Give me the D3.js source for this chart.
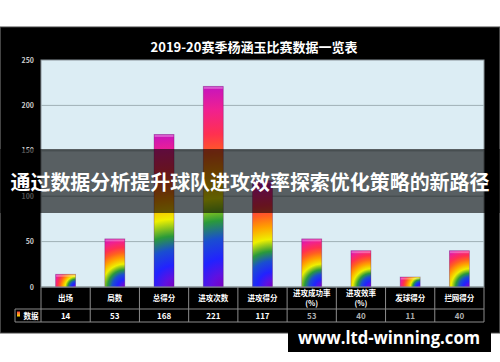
<!DOCTYPE html>
<html><head><meta charset="utf-8">
<script src="https://cdn.jsdelivr.net/npm/d3@7"></script>
<style>html,body{margin:0;padding:0;background:#fff;}svg{display:block;}</style>
</head><body>
<svg id="c" width="500" height="362"></svg>
<script>
const categories = ["出场","局数","总得分","进攻次数","进攻得分","进攻成功率\n(%)","进攻效率\n(%)","发球得分","拦网得分"];
const values = [14,53,168,221,117,53,40,11,40];
const valueLabels = ["14","53","168","221","117","53","40","11","40"];
const yTicks = [0,50,100,150,200,250];
const title = "2019-20赛季杨涵玉比赛数据一览表";
const seriesName = "数据";
const bannerText = "通过数据分析提升球队进攻效率探索优化策略的新路径";
const watermark = "www.ltd-winning.com";

const svg = d3.select("#c");
const font = "'Noto Sans CJK SC','Noto Sans',sans-serif";
const L = 41, R = 484, T = 60, B = 287;

// black frame
svg.append("rect").attr("x",0.5).attr("y",27).attr("width",499).attr("height",306)
  .attr("fill","#000").attr("stroke","#444").attr("stroke-width",1);

svg.append("text").attr("x",254).attr("y",52).attr("text-anchor","middle")
  .attr("fill","#fff").attr("font-family",font).attr("font-weight","bold").attr("font-size",13)
  .text(title);

const x = d3.scaleBand().domain(categories).range([L,R]).padding(0);
const y = d3.scaleLinear().domain([0,250]).range([B,T]);

// plot background
svg.append("rect").attr("x",L).attr("y",T).attr("width",R-L).attr("height",B-T)
  .attr("fill","#dcedf4").attr("stroke","#8a9499").attr("stroke-width",1);

// gridlines
svg.append("g").selectAll("line").data(yTicks.filter(d=>d>0&&d<250)).join("line")
  .attr("x1",L).attr("x2",R).attr("y1",d=>y(d)).attr("y2",d=>y(d))
  .attr("stroke","#9fb0b6").attr("stroke-width",1);

// y tick labels
svg.append("g").selectAll("text").data(yTicks).join("text")
  .attr("x",34).attr("y",d=>y(d)+2.5).attr("text-anchor","end")
  .attr("fill","#ccc").attr("font-family",font).attr("font-size",7).attr("font-weight","bold")
  .text(d=>d);

// gradients
const stops = [
  [0,"#7c00c0"],[0.06,"#6010e0"],[0.14,"#2222ff"],[0.24,"#1a4ed0"],[0.33,"#2a9a3a"],
  [0.44,"#eef000"],[0.56,"#ffa000"],[0.66,"#ff6020"],[0.76,"#ff3050"],[0.88,"#f02090"],[1,"#c414c0"]
];
const defs = svg.append("defs");
const bw = 20;
values.forEach((v,i)=>{
  const x0 = x(categories[i]) + x.bandwidth()/2 - bw/2;
  const y0 = y(v), h = B - y0;
  const g = defs.append("radialGradient").attr("id","g"+i)
    .attr("gradientUnits","userSpaceOnUse")
    .attr("cx",x0+bw).attr("cy",B).attr("r",Math.sqrt(bw*bw+h*h))
    .attr("fx",x0+bw).attr("fy",B);
  stops.forEach(s=>g.append("stop").attr("offset",s[0]).attr("stop-color",s[1]));
});

const bars = svg.append("g");
bars.selectAll("rect.bar").data(values).join("rect").attr("class","bar")
  .attr("x",(d,i)=>x(categories[i]) + x.bandwidth()/2 - bw/2)
  .attr("y",d=>y(d)).attr("width",bw).attr("height",d=>B-y(d))
  .attr("fill",(d,i)=>`url(#g${i})`)
  .attr("stroke","rgba(90,0,90,0.35)").attr("stroke-width",0.8);
bars.selectAll("rect.cap").data(values).join("rect").attr("class","cap")
  .attr("x",(d,i)=>x(categories[i]) + x.bandwidth()/2 - bw/2 + 0.5)
  .attr("y",d=>y(d)+0.5).attr("width",bw-1).attr("height",2)
  .attr("fill","rgba(255,255,255,0.3)");

// axis line
svg.append("line").attr("x1",L).attr("x2",R).attr("y1",B).attr("y2",B)
  .attr("stroke","#8a9499").attr("stroke-width",1);

// table
const tg = svg.append("g");
const r1 = 309, r2 = 322;
const grid = "#8c8c8c";
tg.append("line").attr("x1",15).attr("x2",R).attr("y1",r1).attr("y2",r1).attr("stroke",grid);
tg.append("line").attr("x1",15).attr("x2",R).attr("y1",r2).attr("y2",r2).attr("stroke",grid);
tg.append("line").attr("x1",15).attr("x2",15).attr("y1",r1).attr("y2",r2).attr("stroke",grid);
const bounds = categories.map(c=>x(c)).concat([R]);
tg.selectAll("line.v").data(bounds).join("line").attr("class","v")
  .attr("x1",d=>d).attr("x2",d=>d).attr("y1",B).attr("y2",r2).attr("stroke",grid);

categories.forEach((c,i)=>{
  const lines = c.split("\n");
  const cx = x(c) + x.bandwidth()/2;
  const t = tg.append("text").attr("text-anchor","middle").attr("fill","#fff")
    .attr("font-family",font).attr("font-size",7.5).attr("font-weight","bold");
  if (lines.length===1) {
    t.append("tspan").attr("x",cx).attr("y",301).text(lines[0]);
  } else {
    t.append("tspan").attr("x",cx).attr("y",296).text(lines[0]);
    t.append("tspan").attr("x",cx).attr("y",305.5).text(lines[1]);
  }
});
tg.selectAll("text.val").data(valueLabels).join("text").attr("class","val")
  .attr("x",(d,i)=>x(categories[i])+x.bandwidth()/2).attr("y",319)
  .attr("text-anchor","middle").attr("fill",(d,i)=>i>=5?"#b0b0b0":"#fff")
  .attr("font-family",font).attr("font-size",8).attr("font-weight","bold").text(d=>d);

// legend
const lg = defs.append("linearGradient").attr("id","lg").attr("x1",0).attr("y1",0).attr("x2",0).attr("y2",1);
lg.append("stop").attr("offset",0).attr("stop-color","#ff4040");
lg.append("stop").attr("offset",1).attr("stop-color","#ffe000");
tg.append("rect").attr("x",17).attr("y",311.5).attr("width",3).attr("height",5).attr("fill","url(#lg)");
tg.append("text").attr("x",31).attr("y",319).attr("text-anchor","middle").attr("fill","#fff")
  .attr("font-family",font).attr("font-size",7.5).attr("font-weight","bold").text(seriesName);

// banner overlay
svg.append("rect").attr("x",0).attr("y",149).attr("width",500).attr("height",64)
  .attr("fill","rgba(0,0,0,0.6)");
svg.append("text").attr("x",250).attr("y",190).attr("text-anchor","middle")
  .attr("fill","#fff").attr("font-family",font).attr("font-weight","bold").attr("font-size",20)
  .attr("textLength",479).attr("lengthAdjust","spacingAndGlyphs")
  .text(bannerText);

// watermark
svg.append("rect").attr("x",288).attr("y",325).attr("width",203).attr("height",27).attr("fill","#000");
svg.append("text").attr("x",389).attr("y",343.5).attr("text-anchor","middle")
  .attr("fill","#fff").attr("font-family","'Open Sans','DejaVu Sans',sans-serif").attr("font-weight","bold")
  .attr("font-size",17).attr("textLength",182).attr("lengthAdjust","spacingAndGlyphs")
  .text(watermark);
</script>
</body></html>
